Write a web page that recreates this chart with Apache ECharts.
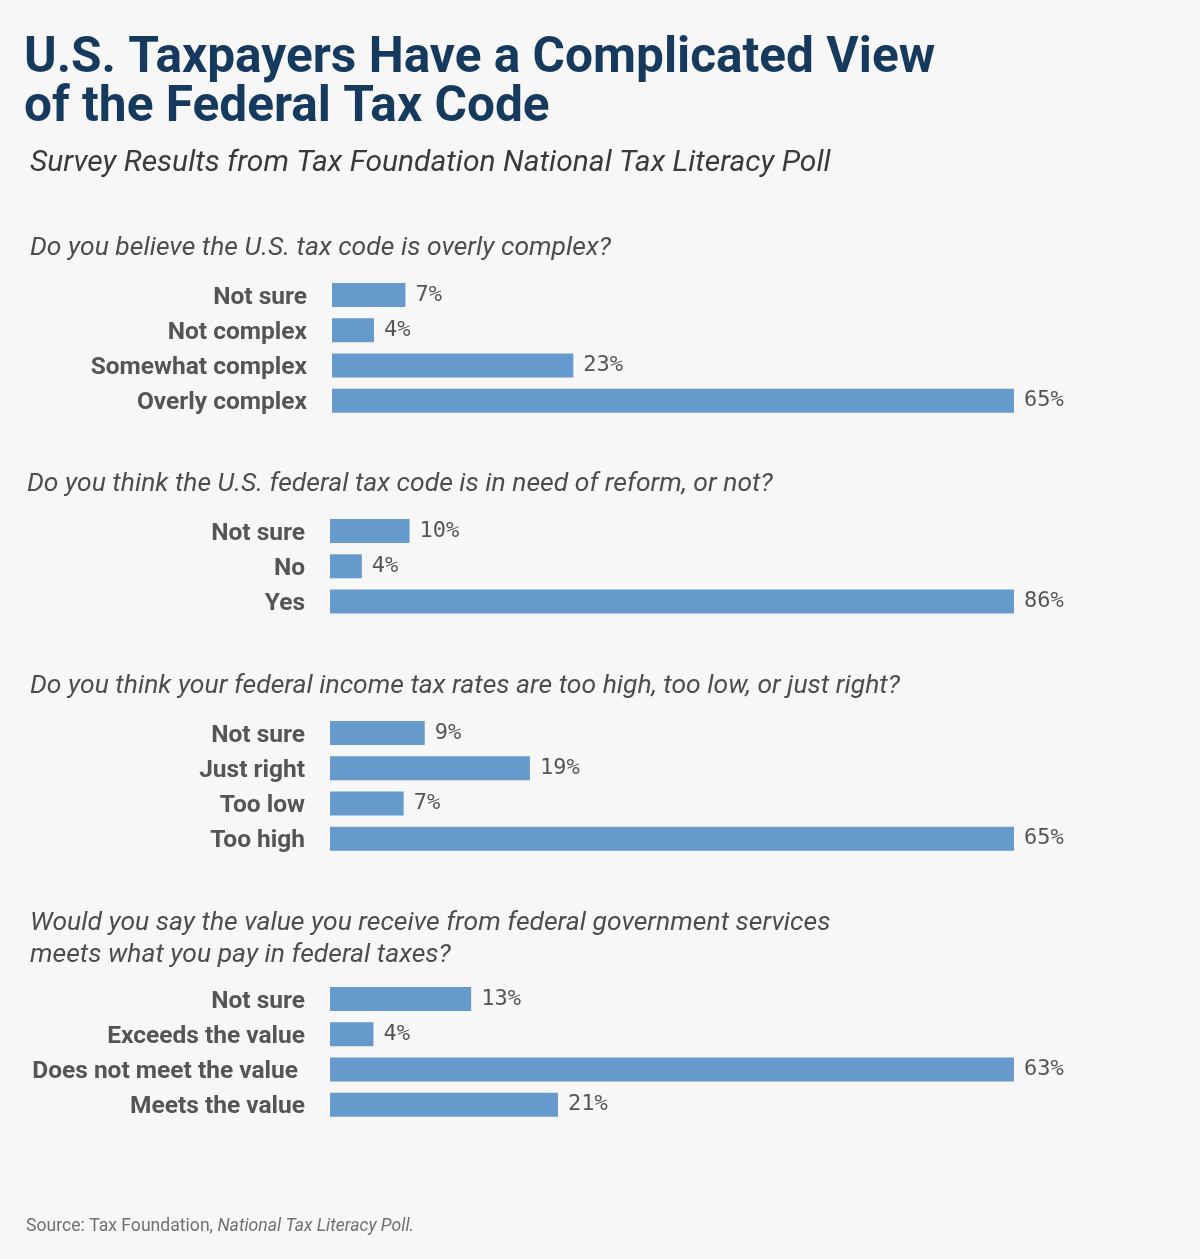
<!DOCTYPE html>
<html>
<head>
<meta charset="utf-8">
<script src="https://cdn.jsdelivr.net/npm/echarts@6/dist/echarts.min.js"></script>
<style>
html,body{margin:0;padding:0;background:#f7f7f7;}
#chart{width:1200px;height:1259px;}
</style>
</head>
<body>
<div id="chart"></div>
<script>
// ---- Data ----
const titleText = 'U.S. Taxpayers Have a Complicated View\nof the Federal Tax Code';
const subtitleText = 'Survey Results from Tax Foundation National Tax Literacy Poll';

const q1 = 'Do you believe the U.S. tax code is overly complex?';
const q1Categories = ['Not sure', 'Not complex', 'Somewhat complex', 'Overly complex'];
const q1Values = [7, 4, 23, 65];

const q2 = 'Do you think the U.S. federal tax code is in need of reform, or not?';
const q2Categories = ['Not sure', 'No', 'Yes'];
const q2Values = [10, 4, 86];

const q3 = 'Do you think your federal income tax rates are too high, too low, or just right?';
const q3Categories = ['Not sure', 'Just right', 'Too low', 'Too high'];
const q3Values = [9, 19, 7, 65];

const q4 = 'Would you say the value you receive from federal government services\nmeets what you pay in federal taxes?';
const q4Categories = ['Not sure', 'Exceeds the value', 'Does not meet the value', 'Meets the value'];
const q4Values = [13, 4, 63, 21];

const panels = [
  {q: q1, cats: q1Categories, vals: q1Values},
  {q: q2, cats: q2Categories, vals: q2Values},
  {q: q3, cats: q3Categories, vals: q3Values},
  {q: q4, cats: q4Categories, vals: q4Values}
];

// ---- Layout ----
const gridTops = [277.5, 513.5, 715.5, 981.5];
const gridLefts = [332, 330, 330, 330];
const rowH = 35.2;
const qPos = [[30, 248], [27, 484], [30, 686], [30, 907]];

const BAR = '#6699cc';
const font = 'Roboto, "Noto Sans", sans-serif';

const grids = [], xAxes = [], yAxes = [], series = [];
panels.forEach((p, i) => {
  grids.push({left: gridLefts[i], right: 186, top: gridTops[i], height: rowH * p.cats.length, containLabel: false});
  xAxes.push({gridIndex: i, type: 'value', min: 0, max: 'dataMax', show: false});
  yAxes.push({
    gridIndex: i, type: 'category', data: p.cats, inverse: true,
    axisLine: {show: false}, axisTick: {show: false}, splitLine: {show: false},
    axisLabel: {
      margin: 25, fontFamily: font, fontWeight: 'bold', fontSize: 24.5, color: '#555555',
      padding: [5, 0, 0, 0],
      formatter: v => v === 'Does not meet the value' ? '{s|' + v + '}' : v,
      rich: {s: {fontFamily: font, fontWeight: 'bold', fontSize: 24.5, color: '#555555', padding: [0, 7, 0, 0]}}
    }
  });
  series.push({
    type: 'bar', xAxisIndex: i, yAxisIndex: i, data: p.vals, barWidth: 24,
    itemStyle: {color: BAR},
    label: {show: true, position: 'right', distance: 10, formatter: '{c}%', padding: [3, 0, 0, 0],
      fontFamily: '"DejaVu Sans Mono", "Liberation Mono", monospace', fontSize: 22, color: '#555555'},
    silent: true, animation: false
  });
});

const graphics = [
  {type: 'text', left: 24, top: 35, style: {text: titleText, font: 'bold 49.6px Roboto', fill: '#163a5e', lineHeight: 49}},
  {type: 'text', x: 30, y: 163, style: {text: subtitleText, font: 'italic 30px Roboto', fill: '#3a3a3a', verticalAlign: 'middle'}}
];
panels.forEach((p, i) => {
  graphics.push({type: 'text', x: qPos[i][0], y: qPos[i][1], style: {text: p.q, font: 'italic 26.5px Roboto', fill: '#4d4d4d', lineHeight: 32, verticalAlign: i === 3 ? 'top' : 'middle'}});
});
graphics.push({type: 'text', x: 26, y: 1227, style: {
  text: '{n|Source: Tax Foundation, }{i|National Tax Literacy Poll.}', verticalAlign: 'middle',
  rich: {n: {fontFamily: 'Roboto', fontSize: 17.6, fill: '#707070'}, i: {fontFamily: 'Roboto', fontStyle: 'italic', fontSize: 17.6, fill: '#707070'}}
}});

const chart = echarts.init(document.getElementById('chart'));
chart.setOption({
  backgroundColor: '#f7f7f7',
  animation: false,
  grid: grids, xAxis: xAxes, yAxis: yAxes, series: series,
  graphic: graphics
});
</script>
</body>
</html>
